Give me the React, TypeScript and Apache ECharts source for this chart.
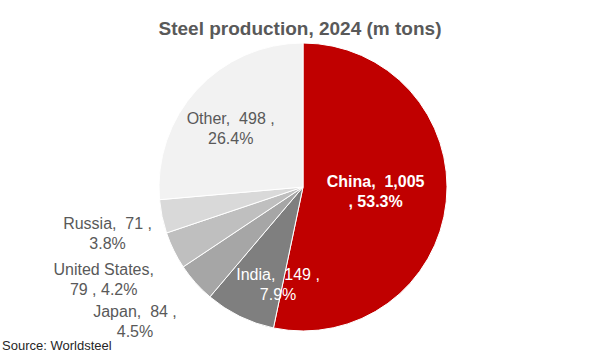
import React, { useEffect, useRef } from "react";
import * as echarts from "echarts";

const categories = ["China", "India", "Japan", "United States", "Russia", "Other"];
const values = [1005, 149, 84, 79, 71, 498];
const sliceColors = ["#C00000", "#7F7F7F", "#A6A6A6", "#BFBFBF", "#D9D9D9", "#F2F2F2"];
// where each label breaks its line: true = after name
const breakAfterName = [false, false, false, true, false, false];
const titleText = "Steel production, 2024 (m tons)";
const sourceText = "Source: Worldsteel";

// label nudges relative to default inside position (style only)
const labelShift: [number, number][] = [
  [-2, -3],
  [8, 30],
  [-112, 85],
  [-132, 59],
  [-122, 31],
  [-17, -8],
];

const fmt = (v: number) => v.toLocaleString("en-US");

export default function App() {
  const ref = useRef<HTMLDivElement>(null);
  useEffect(() => {
    document.body.style.margin = "0";
    const chart = echarts.init(ref.current!, undefined, { renderer: "svg" });
    const data = categories.map((name, i) => {
      const isChina = i === 0;
      const isIndia = i === 1;
      return {
        name,
        value: values[i],
        itemStyle: { color: sliceColors[i] },
        label: {
          color: isChina || isIndia ? "#FFFFFF" : "#595959",
          fontWeight: isChina ? "bold" : "normal",
        },
      };
    });
    chart.setOption({
      animation: false,
      title: {
        text: titleText,
        left: "center",
        top: 14,
        textStyle: {
          fontFamily: "Liberation Sans",
          fontSize: 19,
          fontWeight: "bold",
          color: "#595959",
        },
      },
      graphic: [
        {
          type: "text",
          left: 2,
          top: 339,
          style: {
            text: sourceText,
            fontFamily: "Liberation Sans",
            fontSize: 13,
            fill: "#262626",
          },
        },
      ],
      series: [
        {
          type: "pie",
          center: [303, 187],
          radius: 144,
          startAngle: 90,
          clockwise: true,
          data,
          itemStyle: { borderColor: "#FFFFFF", borderWidth: 1 },
          emphasis: { disabled: true },
          label: {
            show: true,
            position: "inside",
            fontFamily: "Liberation Sans",
            fontSize: 16,
            lineHeight: 20,
            align: "center",
            formatter: (p: any) => {
              const i = p.dataIndex;
              const pct = p.percent.toFixed(1) + "%";
              if (i === 0) return `${p.name},  ${fmt(p.value)}\n, ${pct}`;
              if (breakAfterName[i]) return `${p.name},\n${fmt(p.value)} , ${pct}`;
              return `${p.name},  ${fmt(p.value)} ,\n${pct}`;
            },
          },
          labelLine: { show: false },
          labelLayout: (params: any) => {
            const s = labelShift[params.dataIndex];
            return { dx: s[0], dy: s[1] };
          },
        },
      ],
    });
    return () => chart.dispose();
  }, []);
  return <div ref={ref} style={{ width: 600, height: 360 }} />;
}
